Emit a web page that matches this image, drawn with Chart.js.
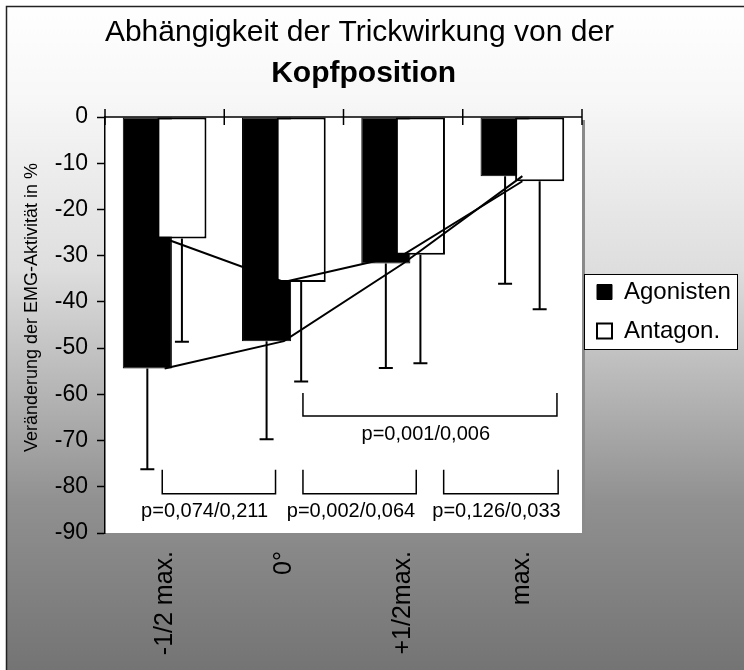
<!DOCTYPE html>
<html><head><meta charset="utf-8">
<script src="https://cdn.jsdelivr.net/npm/chart.js@4/dist/chart.umd.min.js"></script>
<style>html,body{margin:0;padding:0;background:#fff;} canvas{display:block;}</style>
</head><body>
<canvas id="c" width="744" height="670"></canvas>
<script>
// ---- data ----
const categories = ['-1/2 max.', '0°', '+1/2max.', 'max.'];
const agonisten = [-54.4, -48.5, -31.7, -12.8];
const antagonisten = [-26.3, -35.7, -29.8, -13.9];
const agonistenSD = [21.8, 21.2, 22.6, 23.3];
const antagonistenSD = [22.3, 21.5, 23.5, 27.7];
const yMin = -90, yMax = 0, yStep = 10;
// significance brackets (category units / value units)
const bracketFrom = [-0.02, 1.16, 2.34, 1.16];
const bracketTo = [0.93, 2.11, 3.30, 3.29];
const bracketTop = [-76.3, -76.3, -76.3, -59.7];
const bracketBottom = [-81.5, -81.5, -81.5, -64.7];
const pLabels = ['p=0,074/0,211', 'p=0,002/0,064', 'p=0,126/0,033', 'p=0,001/0,006'];
const pLabelX = [0.335, 1.563, 2.783, 2.19];
const pLabelY = [-85.3, -85.3, -85.3, -68.7];

Chart.defaults.font.family = '"Liberation Sans", Arial, sans-serif';
Chart.defaults.color = '#000';

function catPx(xs, c) {
  const p0 = xs.getPixelForValue(0), p1 = xs.getPixelForValue(1);
  return p0 + c * (p1 - p0);
}

const decor = {
  id: 'decor',
  beforeUpdate(chart) {
    const lg = chart.legend;
    if (lg && !lg._fx) {
      const f = lg.fit;
      lg.fit = function () { f.call(this); this.width = 162; };
      lg._fx = true;
    }
  },
  beforeDraw(chart) {
    const {ctx, width, height, chartArea: a} = chart;
    ctx.save();
    ctx.fillStyle = '#fff';
    ctx.fillRect(0, 0, width, height);
    const g = ctx.createLinearGradient(0, 0, 0, height);
    g.addColorStop(0, '#ffffff');
    g.addColorStop(0.15, '#f7f7f7');
    g.addColorStop(0.40, '#dedede');
    g.addColorStop(0.75, '#909090');
    g.addColorStop(1, '#747474');
    ctx.fillStyle = g;
    ctx.fillRect(6, 6, width, height);
    ctx.strokeStyle = '#222';
    ctx.lineWidth = 1.5;
    ctx.beginPath();
    ctx.moveTo(6.5, height + 5);
    ctx.lineTo(6.5, 6.5);
    ctx.lineTo(width + 5, 6.5);
    ctx.stroke();
    // plot area with shadow
    ctx.fillStyle = '#8a8a8a';
    ctx.fillRect(a.left + 3, a.top + 3, a.width, a.height);
    ctx.fillStyle = '#fff';
    ctx.fillRect(a.left, a.top, a.width, a.height);
    // legend frame
    const lg = chart.legend;
    const hb = lg && lg.legendHitBoxes;
    if (hb && hb.length) {
      const last = hb[hb.length - 1];
      const x1 = a.right + 2.5, x2 = 737.5;
      const y1 = Math.round(hb[0].top - 6.5) + 0.5;
      const y2 = Math.round(last.top + last.height + 5.5) + 0.5;
      ctx.fillStyle = '#fff';
      ctx.fillRect(x1, y1, x2 - x1, y2 - y1);
      ctx.strokeStyle = '#000';
      ctx.lineWidth = 1;
      ctx.strokeRect(x1, y1, x2 - x1, y2 - y1);
    }
    ctx.restore();
  },
  beforeDatasetsDraw(chart) {
    const ctx = chart.ctx;
    const ys = chart.scales.y;
    chart.getDatasetMeta(0).controller.draw();
    chart.getDatasetMeta(1).controller.draw();
    const errs = [[agonisten, agonistenSD], [antagonisten, antagonistenSD]];
    ctx.save();
    ctx.strokeStyle = '#000';
    ctx.lineWidth = 2;
    errs.forEach(([vals, sd], di) => {
      chart.getDatasetMeta(di).data.forEach((el, j) => {
        const yEnd = ys.getPixelForValue(vals[j] - sd[j]);
        ctx.beginPath();
        ctx.moveTo(el.x, el.y);
        ctx.lineTo(el.x, yEnd);
        ctx.moveTo(el.x - 7, yEnd);
        ctx.lineTo(el.x + 7, yEnd);
        ctx.stroke();
      });
    });
    ctx.restore();
    chart.getDatasetMeta(2).controller.draw();
    chart.getDatasetMeta(3).controller.draw();
    return false;
  },
  afterDraw(chart) {
    const {ctx, chartArea: a} = chart;
    const xs = chart.scales.x, ys = chart.scales.y;
    ctx.save();
    ctx.strokeStyle = '#000';
    ctx.lineWidth = 1.5;
    const y0 = ys.getPixelForValue(0);
    ctx.beginPath();
    ctx.moveTo(a.left, y0);
    ctx.lineTo(a.right, y0);
    for (let i = 0; i <= categories.length; i++) {
      const x = catPx(xs, i - 0.5);
      ctx.moveTo(x, y0 - 8);
      ctx.lineTo(x, y0 + 8);
    }
    ctx.stroke();
    // brackets
    ctx.lineWidth = 1.5;
    for (let i = 0; i < bracketFrom.length; i++) {
      const xa = catPx(xs, bracketFrom[i]), xb = catPx(xs, bracketTo[i]);
      const yt = ys.getPixelForValue(bracketTop[i]), yb = ys.getPixelForValue(bracketBottom[i]);
      ctx.beginPath();
      ctx.moveTo(xa, yt); ctx.lineTo(xa, yb); ctx.lineTo(xb, yb); ctx.lineTo(xb, yt);
      ctx.stroke();
    }
    ctx.fillStyle = '#000';
    ctx.font = '20px "Liberation Sans", Arial, sans-serif';
    ctx.textAlign = 'center';
    ctx.textBaseline = 'middle';
    for (let i = 0; i < pLabels.length; i++) {
      ctx.fillText(pLabels[i], catPx(xs, pLabelX[i]), ys.getPixelForValue(pLabelY[i]));
    }
    ctx.restore();
  }
};

new Chart(document.getElementById('c'), {
  type: 'bar',
  data: {
    labels: categories,
    datasets: [
      {type: 'bar', label: 'Agonisten', data: agonisten, backgroundColor: '#000', borderColor: '#000', borderWidth: 1,
        borderSkipped: false, categoryPercentage: 0.58, barPercentage: 1.42},
      {type: 'bar', label: 'Antagon.', data: antagonisten, backgroundColor: '#fff', borderColor: '#000', borderWidth: 2,
        borderSkipped: false, categoryPercentage: 0.58, barPercentage: 1.42},
      {type: 'line', label: 'Agonisten Verlauf', data: agonisten, borderColor: '#000', borderWidth: 2,
        pointRadius: 0, fill: false, tension: 0},
      {type: 'line', label: 'Antagon. Verlauf', data: antagonisten, borderColor: '#000', borderWidth: 2,
        pointRadius: 0, fill: false, tension: 0}
    ]
  },
  options: {
    responsive: false,
    animation: false,
    devicePixelRatio: 1,
    layout: {padding: {left: 0, right: 0, top: 0, bottom: 0}},
    plugins: {
      tooltip: {enabled: false},
      title: {display: true, text: 'Abhängigkeit der Trickwirkung von der   ', color: '#000',
        font: {size: 30, weight: 'normal'}, padding: {top: 14.5, bottom: 3}},
      subtitle: {display: true, text: 'Kopfposition  ', color: '#000',
        font: {size: 30, weight: 'bold'}, padding: {top: 2, bottom: 25.5}},
      legend: {
        position: 'right', align: 'start', fullSize: false,
        title: {display: true, text: '', font: {size: 10}, padding: {top: 136, bottom: 0}},
        labels: {boxWidth: 15, boxHeight: 15, padding: 15, color: '#000', font: {size: 24},
          filter: (item) => item.datasetIndex < 2}
      }
    },
    scales: {
      x: {
        ticks: {font: {size: 25}, color: '#000', maxRotation: 90, minRotation: 90, padding: 10, autoSkip: false},
        grid: {display: false},
        border: {display: false},
        afterFit(s) { s.height = 137; }
      },
      y: {
        min: yMin, max: yMax,
        ticks: {stepSize: yStep, font: {size: 23}, color: '#000', padding: 9},
        grid: {drawOnChartArea: false, drawTicks: true, tickLength: 8, tickColor: '#000', tickWidth: 1.5},
        border: {display: true, color: '#000', width: 1.5},
        title: {display: true, text: '       Veränderung der EMG-Aktivität in %', color: '#000',
          font: {size: 18}, padding: {top: 21, bottom: 0}},
        afterFit(s) { s.width = 105; }
      }
    }
  },
  plugins: [decor]
});
</script>
</body></html>
